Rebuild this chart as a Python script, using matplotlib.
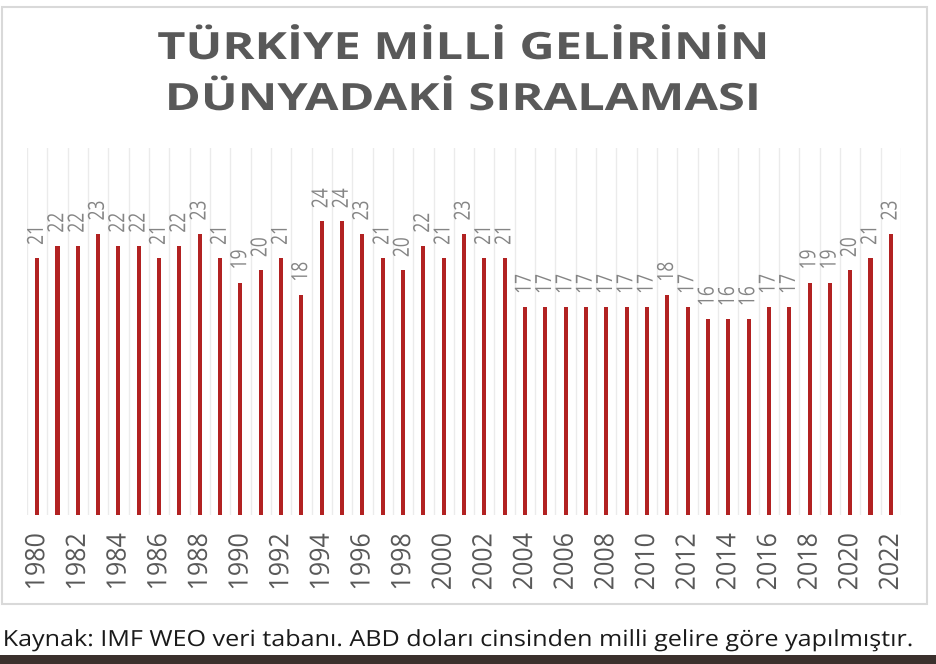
import matplotlib
matplotlib.use("Agg")
import matplotlib.pyplot as plt
from matplotlib.patches import Rectangle
from matplotlib.patheffects import AbstractPathEffect
from matplotlib.transforms import Affine2D

years = list(range(1980, 2023))
ranks = [21, 22, 22, 23, 22, 22, 21, 22, 23, 21, 19, 20, 21, 18, 24, 24, 23, 21, 20, 22,
         21, 23, 21, 21, 17, 17, 17, 17, 17, 17, 17, 18, 17, 16, 16, 16, 17, 17, 19, 19,
         20, 21, 23]
tick_years = years[::2]
title_lines = ["TÜRKİYE MİLLİ GELİRİNİN", "DÜNYADAKİ SIRALAMASI"]
caption = "Kaynak: IMF WEO veri tabanı. ABD doları cinsinden milli gelire göre yapılmıştır."


class Stretch(AbstractPathEffect):
    """Scale glyph outlines (in text coordinates) to mimic a wider typeface."""

    def __init__(self, sx=1.0, sy=1.0, anchor="center"):
        super().__init__()
        self.sx, self.sy, self.anchor = sx, sy, anchor

    def draw_path(self, renderer, gc, tpath, affine, rgbFace=None):
        ext = tpath.get_extents()
        cx = ext.x0 if self.anchor == "left" else (ext.x0 + ext.x1) / 2
        cy = (ext.y0 + ext.y1) / 2
        t = (Affine2D().translate(-cx, -cy).scale(self.sx, self.sy)
             .translate(cx, cy) + affine)
        renderer.draw_path(gc, tpath, t, rgbFace)


W, H = 936, 664
fig = plt.figure(figsize=(W / 100, H / 100), dpi=100)
fig.patch.set_facecolor("white")

fig.add_artist(Rectangle((2 / W, 1 - 604 / H), 925 / W, (604 - 7) / H, transform=fig.transFigure,
                         fill=False, edgecolor="#d9d9d9", linewidth=1.5))
fig.add_artist(Rectangle((0, 0), 1, 9 / H, transform=fig.transFigure,
                         facecolor="#3b302d", edgecolor="none"))

ax = fig.add_axes([27 / W, 1 - 515 / H, (901 - 27) / W, (515 - 148) / H])
x = list(range(len(years)))
ax.bar(x, ranks, width=0.2, color="#b22222", zorder=3)
ax.set_xlim(-0.5, len(years) - 0.5)
ax.set_ylim(0, 30)

for i in range(len(years) + 1):
    ax.axvline(i - 0.5, color="#ebebeb", linewidth=1, zorder=1)

for xi, v in zip(x, ranks):
    ax.annotate(str(v), (xi, v), xytext=(0, 9.5), textcoords="offset points",
                rotation=90, ha="center", va="bottom", color="#858585",
                fontsize=12.5, family="Open Sans",
                path_effects=[Stretch(1.0, 1.28)])

ax.set_xticks([years.index(y) for y in tick_years])
labels = ax.set_xticklabels([str(y) for y in tick_years], rotation=90, fontsize=18,
                            family="Open Sans", color="#595959")
for lb in labels:
    lb.set_path_effects([Stretch(1.0, 1.07)])
ax.tick_params(axis="x", length=0, pad=13)
ax.set_yticks([])
for s in ax.spines.values():
    s.set_visible(False)

for line, base in zip(title_lines, [59, 110]):
    fig.text(463 / W, 1 - base / H, line, ha="center", va="baseline", fontsize=27,
             fontweight="bold", family="Open Sans", color="#595959",
             path_effects=[Stretch(1.30, 1.0)])

fig.text(3 / W, 1 - 646 / H, caption, ha="left", va="baseline", fontsize=16,
         family="Open Sans", color="#1a1a1a", path_effects=[Stretch(1.13, 1.0, "left")])

fig.savefig("out.png", dpi=100)
